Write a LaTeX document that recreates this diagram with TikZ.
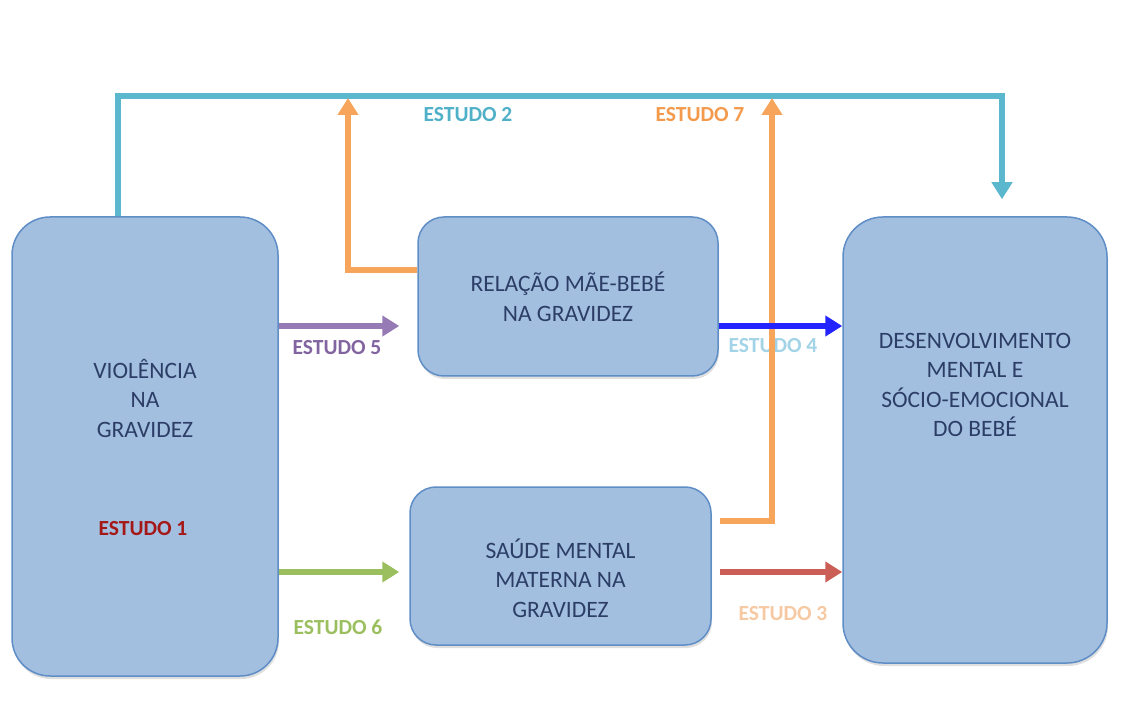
\documentclass[tikz,border=0pt]{standalone}
\usepackage{fontspec}
\setmainfont{Carlito}
\usetikzlibrary{arrows.meta,shadows,calc}
\definecolor{boxfill}{HTML}{A3BFE0}
\definecolor{boxdraw}{HTML}{5F8DC6}
\definecolor{boxtext}{HTML}{2C3E66}
\definecolor{cteal}{HTML}{5BB7CE}
\definecolor{corange}{HTML}{F7A55B}
\definecolor{cpurple}{HTML}{957AB5}
\definecolor{cblue}{HTML}{2323FF}
\definecolor{cgreen}{HTML}{9BBF5E}
\definecolor{cred}{HTML}{CC5E58}
\definecolor{tteal}{HTML}{4FB0C8}
\definecolor{torange}{HTML}{F39A4C}
\definecolor{tpurple}{HTML}{8265A0}
\definecolor{tlblue}{HTML}{A2D3E6}
\definecolor{tgreen}{HTML}{9BBF5E}
\definecolor{tpeach}{HTML}{F6C9A3}
\definecolor{tdred}{HTML}{A41818}
\tikzset{
  mbox/.style={draw=boxdraw, line width=1.5pt, fill=boxfill, text=boxtext,
    align=center, font=\fontsize{23.5}{29}\selectfont, inner sep=0pt,
    drop shadow={opacity=0.25, shadow xshift=1pt, shadow yshift=-3pt}},
  btext/.style={text=boxtext, align=center, font=\fontsize{23.5}{29.5}\selectfont, inner sep=0pt},
  conn/.style={line width=6pt, line join=miter},
  tip/.style={-{Triangle[length=17pt,width=20pt]}},
  lbl/.style={font=\bfseries\fontsize{21.5}{24}\selectfont, inner sep=0pt}
}
\begin{document}
\begin{tikzpicture}[x=1pt,y=-1pt]
\useasboundingbox (0,0) rectangle (1125,727);
% boxes
\node[mbox, rounded corners=38pt, minimum width=266pt, minimum height=459pt] (vio) at (145,446.5) {};
\node[btext] (viot) at (145,398) {VIOLÊNCIA\\NA\\GRAVIDEZ};
\node[lbl, text=tdred] (e1) at (143,529) {ESTUDO 1};
\node[mbox, rounded corners=26pt, minimum width=300pt, minimum height=159pt] (rel) at (568,296.5) {};
\node[btext] (relt) at (568,297) {RELAÇÃO MÃE-BEBÉ\\NA GRAVIDEZ};
\node[mbox, rounded corners=26pt, minimum width=301pt, minimum height=158pt] (sau) at (560.5,566) {};
\node[btext] (saut) at (560.5,578) {SAÚDE MENTAL\\MATERNA NA\\GRAVIDEZ};
\node[mbox, rounded corners=40pt, minimum width=264pt, minimum height=446pt] (des) at (975,440) {};
\node[btext] (dest) at (975,385) {DESENVOLVIMENTO\\MENTAL E\\SÓCIO-EMOCIONAL\\DO BEBÉ};
% teal connector
\coordinate (t1) at (118,96);
\coordinate (t2) at (1002,96);
\draw[conn, cteal, tip] (vio.north -| t1) -- (t1) -- (t2) -- ([yshift=17pt]des.north -| t2);
\node[lbl, text=tteal] (e2) at (468,115) {ESTUDO 2};
% orange from relacao
\coordinate (o1) at (348,270);
\draw[conn, corange, tip] (o1 -| rel.west) -- (o1) -- ([yshift=-2pt]o1 |- t1);
% labels under orange 2
\node[lbl, text=tlblue] (e4) at (773,346) {ESTUDO 4};
\node[lbl, text=torange] (e7) at (700,115) {ESTUDO 7};
% orange from saude
\coordinate (o2) at (772,521);
\draw[conn, corange, tip] ([xshift=8pt]o2 -| sau.east) -- (o2) -- ([yshift=-2pt]o2 |- t1);
% horizontal arrows
\draw[conn, cpurple, tip, shorten >=18pt] (vio.east |- 0,326) -- (rel.west |- 0,326);
\node[lbl, text=tpurple] (e5) at (337,348) {ESTUDO 5};
\draw[conn, cblue, tip] (rel.east |- 0,326) -- (des.west |- 0,326);
\draw[conn, cgreen, tip, shorten >=10pt] (vio.east |- 0,572) -- (sau.west |- 0,572);
\node[lbl, text=tgreen] (e6) at (338,627) {ESTUDO 6};
\draw[conn, cred, tip] ([xshift=8pt]sau.east |- 0,572) -- (des.west |- 0,572);
\node[lbl, text=tpeach] (e3) at (783,614) {ESTUDO 3};
\end{tikzpicture}
\end{document}
